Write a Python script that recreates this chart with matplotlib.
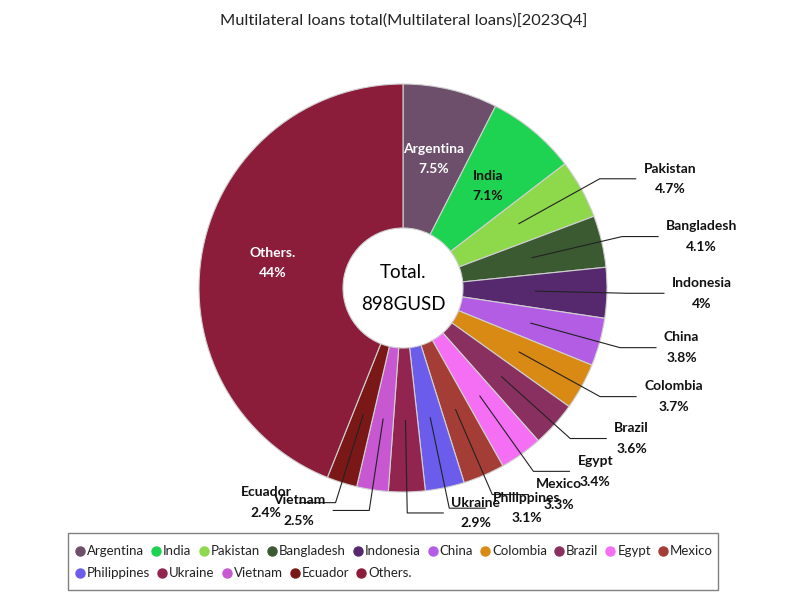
import numpy as np
import matplotlib
matplotlib.use('Agg')
import matplotlib.pyplot as plt
from matplotlib.patches import Rectangle

title = 'Multilateral loans total(Multilateral loans)[2023Q4]'
countries = ['Argentina', 'India', 'Pakistan', 'Bangladesh', 'Indonesia', 'China',
             'Colombia', 'Brazil', 'Egypt', 'Mexico', 'Philippines', 'Ukraine',
             'Vietnam', 'Ecuador', 'Others.']
shares = [7.5, 7.1, 4.7, 4.1, 4, 3.8, 3.7, 3.6, 3.4, 3.3, 3.1, 2.9, 2.5, 2.4, 44]
colors = ['#6d4f6b', '#1ed352', '#8ed84c', '#3b5a32', '#56296f', '#b25de3',
          '#d88a14', '#8a3060', '#f46ff4', '#a53d37', '#6b5cec', '#922450',
          '#c857d2', '#7a1818', '#8b1d3b']
inside = ['Argentina', 'India', 'Others.']
white_text = ['Argentina', 'Others.']
total_text = '898GUSD'

plt.rcParams['font.family'] = ['Lato', 'DejaVu Sans']

fig = plt.figure(figsize=(8, 6), dpi=100)
ax = fig.add_axes([0, 0, 1, 1])

# everything in pixel units, y pointing up
cx, cy = 403, 312
R = 204
hole = 60
wedges, _ = ax.pie(shares, colors=colors, startangle=90, counterclock=False,
                   radius=R, center=(cx, cy),
                   wedgeprops=dict(width=R - hole, edgecolor='#d0d0d0', linewidth=0.8))
ax.set_xlim(0, 800)
ax.set_ylim(0, 600)
ax.set_aspect('equal')
ax.axis('off')

lab_font = dict(fontsize=10, fontweight='bold', linespacing=1.85,
                multialignment='center', va='center')

for w, name, s in zip(wedges, countries, shares):
	ang = np.deg2rad((w.theta1 + w.theta2) / 2)
	c, sn = np.cos(ang), np.sin(ang)
	txt = f'{name}\n{s:g}%'
	r_in = 0.65 * R
	if name in inside:
		col = 'white' if name in white_text else '#111111'
		ax.text(cx + r_in * c, cy + r_in * sn, txt, ha='center', color=col, **lab_font)
		continue
	x0, y0 = cx + r_in * c, cy + r_in * sn
	x1, y1 = cx + 225 * c, cy + 225 * sn
	side = 1 if c >= 0 else -1
	x2 = x1 + side * 36
	ax.plot([x0, x1, x2], [y0, y1, y1], color='#222222', lw=0.8)
	ax.text(x2 + side * 8, y1, txt, ha='left' if side > 0 else 'right',
	        color='#111111', **lab_font)

# center text
ax.text(cx, cy + 16, 'Total.', ha='center', va='center', fontsize=13.5)
ax.text(cx, cy - 16, total_text, ha='center', va='center', fontsize=13.5)

fig.text(0.504, 1 - 20 / 600, title, ha='center', va='center', fontsize=11.8, color='#222222')

# legend, flow layout
ax.add_patch(Rectangle((68, 10), 650, 57, fill=False, edgecolor='#808080', lw=1))
fig.canvas.draw()
renderer = fig.canvas.get_renderer()
rows_y = [49, 27]
x = 80
row = 0
for i, (name, col) in enumerate(zip(countries, colors)):
	if i == 10:
		row = 1
		x = 80
	y = rows_y[row]
	ax.plot([x], [y], marker='o', ms=6.5, color=col, mec=col)
	t = ax.text(x + 7, y, name, ha='left', va='center', fontsize=9.5, color='#222222')
	wpx = t.get_window_extent(renderer).width
	x += 7 + wpx + 12

fig.savefig('out.png', dpi=100)
